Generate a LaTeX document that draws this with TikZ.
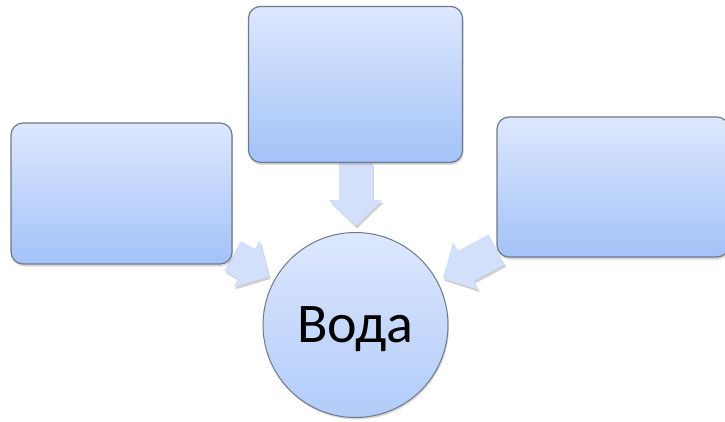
\documentclass[tikz,border=0pt]{standalone}
\usepackage{fontspec}
\setmainfont{Carlito}
\usepackage{tikz}
\usetikzlibrary{arrows.meta, positioning, shadows, backgrounds}

\definecolor{boxtop}{RGB}{221,232,253}
\definecolor{boxbot}{RGB}{163,194,248}
\definecolor{boxline}{RGB}{110,120,138}
\definecolor{arrowfill}{RGB}{210,224,251}
\definecolor{arrowshade}{RGB}{208,208,212}

\begin{document}
\begin{tikzpicture}[x=1pt, y=-1pt]
\tikzstyle{block} = [rectangle, rounded corners=12pt, minimum width=221pt, minimum height=141pt, draw=boxline, line width=1.2pt, top color=boxtop, bottom color=boxbot, drop shadow={shadow xshift=1pt, shadow yshift=-2.5pt, opacity=0.3}]
\tikzstyle{water} = [circle, minimum size=185pt, inner sep=0pt, text depth=0pt, draw=boxline, line width=1pt, top color=boxtop, bottom color=boxbot!85!white, font=\fontsize{56}{66}\selectfont, drop shadow={shadow xshift=1pt, shadow yshift=-2pt, opacity=0.3}]
\tikzstyle{bigarrow} = [line width=34pt, draw=arrowfill, -{Triangle[width=52pt, length=26pt]}, shorten >=6pt]
\tikzstyle{arrowshadow} = [bigarrow, draw=arrowshade, transform canvas={xshift=1.5pt, yshift=-2.5pt}]

\useasboundingbox (0,0) rectangle (725,421);

\node (water) [water] at (355.5,325) {Вода};
\node (topbox) [block, minimum width=214pt, minimum height=156pt, above=69pt of water] {};
\node (leftbox) [block] at (121.5,193.5) {};
\node (rightbox) [block, minimum width=232pt, minimum height=140pt] at (613,187) {};

% arrows into the circle
\begin{scope}[on background layer]
\foreach \src in {topbox, leftbox, rightbox} {
  \draw [arrowshadow] (\src) -- (water);
  \draw [bigarrow] (\src) -- (water);
}
\end{scope}

\end{tikzpicture}
\end{document}
